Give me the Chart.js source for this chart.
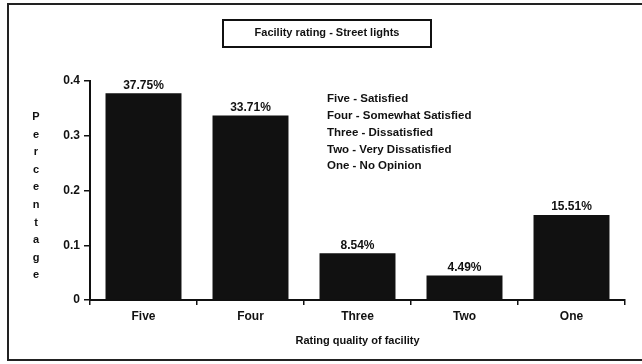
<!DOCTYPE html>
<html>
<head>
<meta charset="utf-8">
<script src="https://cdn.jsdelivr.net/npm/chart.js@4"></script>
<style>
  html, body { margin: 0; padding: 0; background: #fff; }
  #wrap { width: 642px; height: 364px; }
</style>
</head>
<body>
<div id="wrap"><canvas id="barChart" width="642" height="364"></canvas></div>
<script>
// DATA
const categories = ["Five", "Four", "Three", "Two", "One"];
const shares = [0.3775, 0.3371, 0.0854, 0.0449, 0.1551];
const yTicks = [0, 0.1, 0.2, 0.3, 0.4];
const legendLines = [
  "Five - Satisfied",
  "Four - Somewhat Satisfied",
  "Three - Dissatisfied",
  "Two - Very Dissatisfied",
  "One - No Opinion"
];
const chartTitle = "Facility rating - Street lights";
const yTitle = "Percentage";
const xTitle = "Rating quality of facility";

const FONT = "'Liberation Sans', Arial, sans-serif";
const INK = "#111";

// frame, title box, legend text, stacked y title, value labels
const decorations = {
  id: "decorations",
  beforeDraw(chart) {
    const c = chart.ctx;
    c.save();
    c.fillStyle = "#fff";
    c.fillRect(0, 0, chart.width, chart.height);
    c.strokeStyle = "#222";
    c.lineWidth = 2;
    c.strokeRect(8, 4, 660, 356);
    c.restore();
  },
  afterDatasetsDraw(chart) {
    const c = chart.ctx;
    c.save();
    c.fillStyle = INK;

    // title box
    c.font = "bold 11px " + FONT;
    c.textAlign = "center";
    c.textBaseline = "middle";
    c.fillText(chartTitle, 327, 33);
    c.strokeStyle = INK;
    c.lineWidth = 2;
    c.strokeRect(223, 20, 208, 27);

    // value labels above bars
    c.font = "bold 12px " + FONT;
    c.textBaseline = "bottom";
    chart.getDatasetMeta(0).data.forEach((bar, i) => {
      c.fillText((shares[i] * 100).toFixed(2) + "%", bar.x, bar.y - 2);
    });

    // legend text
    c.font = "bold 11.5px " + FONT;
    c.textAlign = "left";
    c.textBaseline = "middle";
    legendLines.forEach((line, i) => {
      c.fillText(line, 327, 99 + i * 16.8);
    });

    // y title, letters stacked
    c.font = "bold 11px " + FONT;
    c.textAlign = "center";
    yTitle.split("").forEach((ch, i) => {
      c.fillText(ch, 36, 117 + i * 17.6);
    });
    c.restore();
  }
};

const ctx = document.getElementById("barChart").getContext("2d");

new Chart(ctx, {
  type: "bar",
  data: {
    labels: categories,
    datasets: [{
      data: shares,
      backgroundColor: INK,
      borderWidth: 0,
      categoryPercentage: 1,
      barPercentage: 0.71
    }]
  },
  options: {
    responsive: false,
    animation: false,
    layout: { padding: { left: 50, right: 17, top: 81, bottom: 16 } },
    plugins: {
      legend: { display: false },
      tooltip: { enabled: false }
    },
    scales: {
      x: {
        afterFit: scale => { scale.height = 48; },
        grid: {
          offset: true,
          drawOnChartArea: false,
          drawTicks: true,
          tickLength: 5,
          color: INK,
          lineWidth: 1.5
        },
        border: { color: INK, width: 2 },
        ticks: {
          color: INK,
          font: { family: FONT, size: 12, weight: "bold" },
          padding: 4
        },
        title: {
          display: true,
          text: xTitle,
          color: INK,
          font: { family: FONT, size: 11, weight: "bold" },
          padding: { top: 4, bottom: 0 }
        }
      },
      y: {
        min: 0,
        max: 0.4,
        afterFit: scale => { scale.width = 40; },
        afterBuildTicks: scale => {
          scale.ticks = yTicks.map(v => ({ value: v }));
        },
        grid: {
          drawOnChartArea: false,
          drawTicks: true,
          tickLength: 6,
          color: INK,
          lineWidth: 1.5
        },
        border: { color: INK, width: 2 },
        ticks: {
          color: INK,
          font: { family: FONT, size: 12, weight: "bold" },
          padding: 4,
          callback: v => (v === 0 ? "0" : v.toFixed(1))
        }
      }
    }
  },
  plugins: [decorations]
});
</script>
</body>
</html>
